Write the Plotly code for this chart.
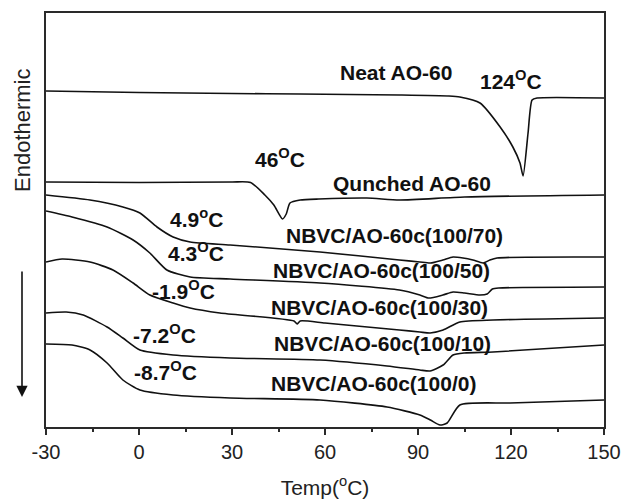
import plotly.graph_objects as go

# DSC heating traces: temperature (°C) and heat flow (arbitrary units, stacked offsets)
neat_T = [-30, 0, 30, 52, 84, 100, 103.5, 110, 116.5, 120.6, 122.9, 123.9, 125.5, 126.8, 128.4, 150]
neat_H = [336, 334.5, 333.5, 333, 332, 331, 330, 324, 300, 280, 264, 251, 294, 327, 329, 329]

quench_T = [-30, 0, 30, 36, 40.6, 43.5, 46.3, 47.5, 48.7, 52, 58, 73.5, 84, 105, 150]
quench_H = [245, 244.5, 245, 244.5, 232, 222, 208, 213, 224, 227, 228, 229, 227, 230, 232]

c70_T = [-30, -15.8, -5.2, 0.3, 5.8, 11, 16.5, 29.4, 58.4, 84, 90.6, 94, 98, 101.3, 104.5, 107.7, 111, 113.2, 115.5, 150]
c70_H = [232, 227, 220, 214, 200, 190, 185, 182, 175, 167, 165, 164, 167, 170, 169, 167, 164, 167, 169, 170]

c50_T = [-30, -21.6, -10.3, -1.9, 3.5, 9, 16.5, 29.4, 58.4, 84, 90.6, 93.5, 98, 101.3, 105, 110, 112.3, 114, 116, 150]
c50_H = [216, 210, 200, 187, 174, 157, 150, 148, 144, 137, 132, 129, 132, 135, 134, 132, 133, 138, 139, 140]

c30_T = [-30, -24.8, -15.8, -8.4, -1.9, 3.5, 11, 16.5, 26.1, 50, 51, 52, 60, 84, 90.6, 93.9, 98.1, 103.5, 114.2, 150]
c30_H = [165, 168, 165, 157, 144, 132, 124, 119, 114, 106, 103, 106, 104, 97, 95, 94, 97, 105, 107, 109]

c10_T = [-30, -23.5, -18, -10.3, -5.2, 0.3, 11, 29.4, 58.4, 80, 90.6, 93.9, 98.1, 101.3, 105, 114.2, 150]
c10_H = [114, 115, 112, 100, 89, 77, 72, 69, 67, 61, 57, 56, 62, 72, 74, 75, 82]

c0_T = [-30, -21.6, -15.8, -10.3, -5.2, 0.3, 11, 29.4, 58.4, 80, 90.6, 94, 97.1, 99.4, 103.5, 119.7, 150]
c0_H = [83, 82, 77, 64, 47, 37, 32, 29, 27, 20, 12, 7, 2, 4, 22, 24, 27]

series = [
    ("Neat AO-60", neat_T, neat_H),
    ("Qunched AO-60", quench_T, quench_H),
    ("NBVC/AO-60c(100/70)", c70_T, c70_H),
    ("NBVC/AO-60c(100/50)", c50_T, c50_H),
    ("NBVC/AO-60c(100/30)", c30_T, c30_H),
    ("NBVC/AO-60c(100/10)", c10_T, c10_H),
    ("NBVC/AO-60c(100/0)", c0_T, c0_H),
]

# curve labels: (text, x, y)
labels = [
    ("Neat AO-60", 82.9, 355),
    ("124<sup>O</sup>C", 120.0, 347),
    ("46<sup>O</sup>C", 45.5, 269),
    ("Qunched AO-60", 88.1, 244),
    ("4.9<sup>o</sup>C", 18.4, 209),
    ("NBVC/AO-60c(100/70)", 82.3, 192),
    ("4.3<sup>O</sup>C", 18.4, 175),
    ("NBVC/AO-60c(100/50)", 78.1, 157),
    ("-1.9<sup>O</sup>C", 14.5, 137),
    ("NBVC/AO-60c(100/30)", 77.7, 120),
    ("-7.2<sup>O</sup>C", 8.1, 93),
    ("NBVC/AO-60c(100/10)", 78.4, 84),
    ("-8.7<sup>O</sup>C", 8.4, 56),
    ("NBVC/AO-60c(100/0)", 75.8, 44),
]

x_ticks = [-30, 0, 30, 60, 90, 120, 150]

FONT = "Liberation Sans, Arial, sans-serif"
AXIS_COLOR = "#2a2a2a"
PLOT_W, PLOT_H = 558, 414
M_L, M_T = 46, 13

fig = go.Figure()
for name, t, h in series:
    fig.add_trace(go.Scatter(
        x=t, y=h, mode="lines", name=name,
        line=dict(color="#111111", width=1.6, shape="spline", smoothing=0.6),
        showlegend=False, hoverinfo="skip",
    ))

annotations = []
for text, x, y in labels:
    annotations.append(dict(
        x=x, y=y, xref="x", yref="y", text="<b>" + text + "</b>", showarrow=False,
        font=dict(family=FONT, size=21, color="#111111"),
        xanchor="center", yanchor="middle",
    ))

# downward arrow beside the stack (paper coords, tail offset in pixels)
annotations.append(dict(
    x=(22 - M_L) / PLOT_W, y=(M_T + PLOT_H - 397) / PLOT_H, xref="paper", yref="paper",
    ax=0, ay=-127, text="", showarrow=True, arrowhead=2, arrowsize=1.4,
    arrowwidth=1.6, arrowcolor="#111111",
))

# y-axis caption
annotations.append(dict(
    x=(22 - M_L) / PLOT_W, y=(M_T + PLOT_H - 130) / PLOT_H, xref="paper", yref="paper",
    text="Endothermic", showarrow=False, textangle=-90,
    font=dict(family=FONT, size=22, color="#222222"),
    xanchor="center", yanchor="middle",
))

fig.update_layout(
    width=622, height=502,
    margin=dict(l=M_L, r=622 - M_L - PLOT_W, t=M_T, b=502 - M_T - PLOT_H, autoexpand=False),
    paper_bgcolor="white", plot_bgcolor="white",
    annotations=annotations,
    xaxis=dict(
        range=[-30, 150], tickvals=x_ticks, ticktext=[str(v) for v in x_ticks],
        ticks="outside", ticklen=6, tickwidth=1.5, tickcolor=AXIS_COLOR,
        minor=dict(dtick=15, tick0=-30, ticks="outside", ticklen=3, tickwidth=1.5, tickcolor=AXIS_COLOR),
        showline=True, linecolor=AXIS_COLOR, linewidth=1.8, mirror=True,
        showgrid=False, zeroline=False, automargin=False,
        tickfont=dict(family=FONT, size=20, color="#222222"),
        title=dict(text="Temp(<sup>o</sup>C)", font=dict(family=FONT, size=21, color="#222222"), standoff=18),
    ),
    yaxis=dict(
        range=[0, 414], showticklabels=False, ticks="",
        showline=True, linecolor=AXIS_COLOR, linewidth=1.8, mirror=True,
        showgrid=False, zeroline=False, automargin=False,
    ),
)

fig.write_html("out.html")
